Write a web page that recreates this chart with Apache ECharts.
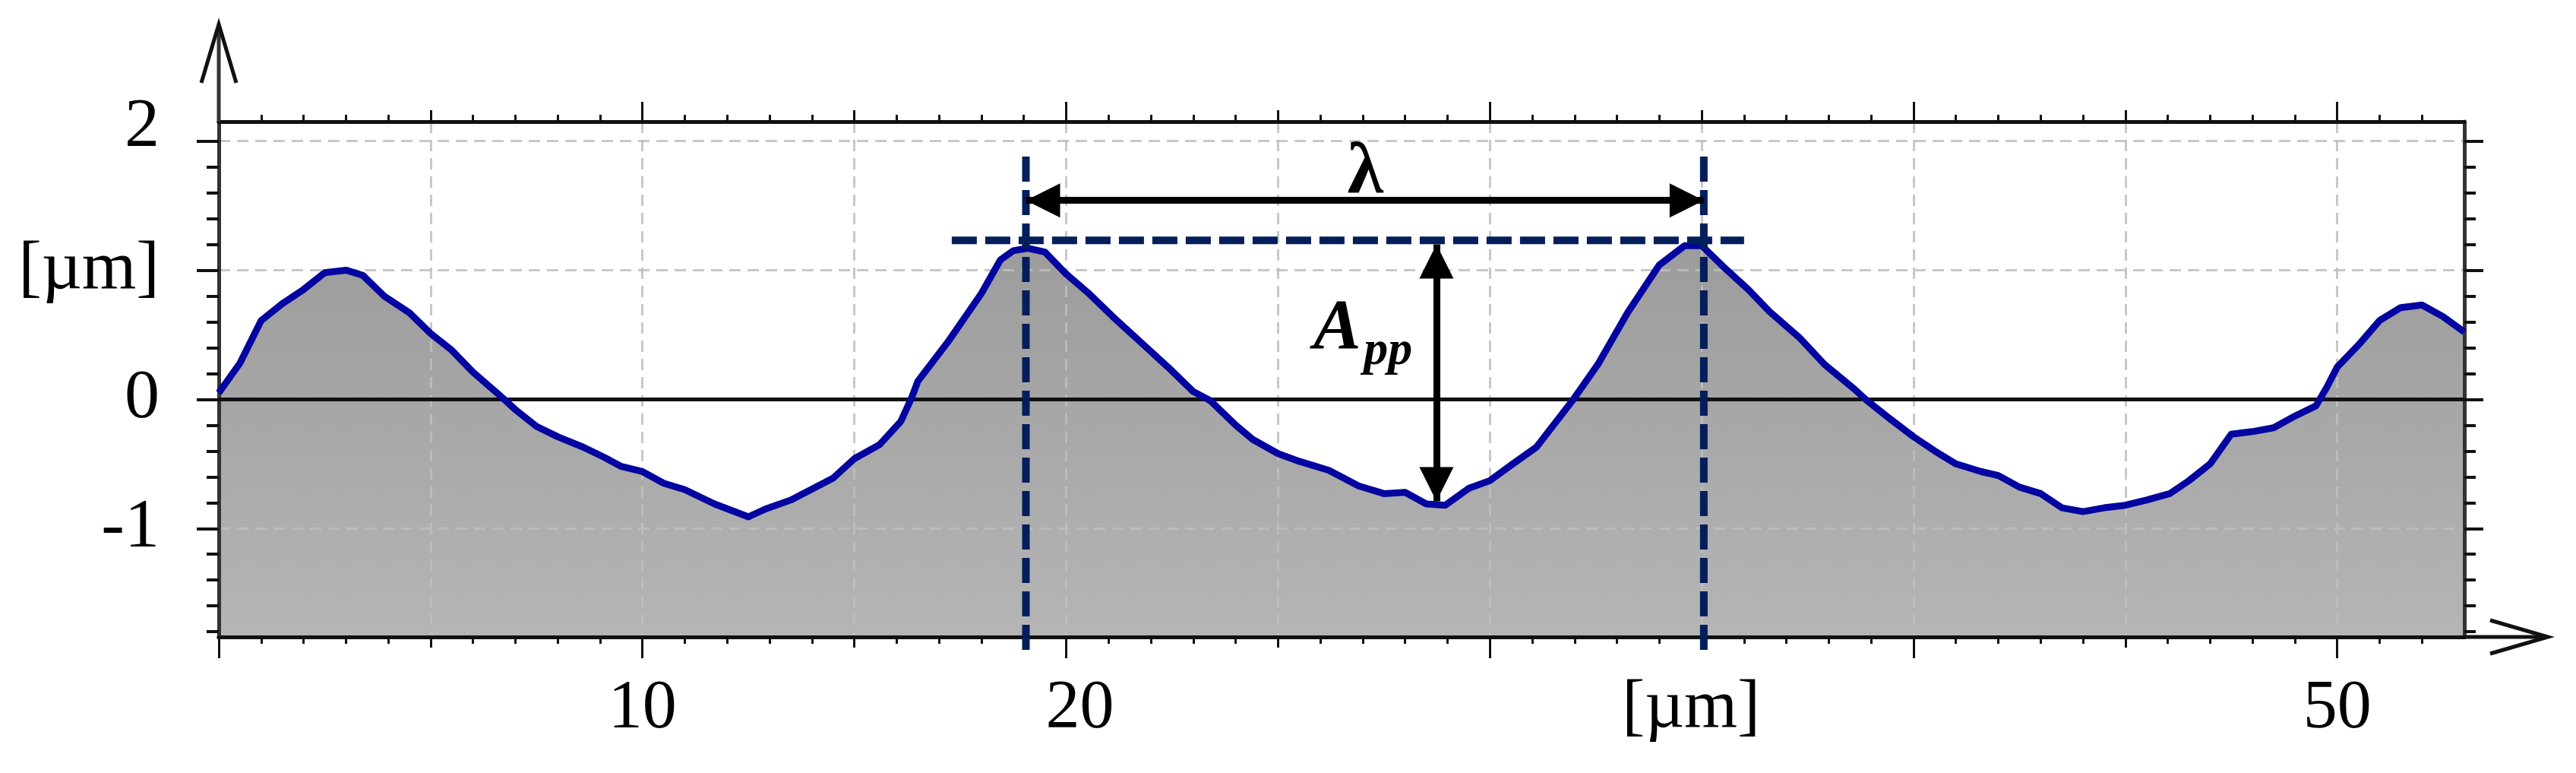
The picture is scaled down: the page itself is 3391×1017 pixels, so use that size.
<!DOCTYPE html>
<html><head><meta charset="utf-8">
<script src="https://cdn.jsdelivr.net/npm/echarts@6/dist/echarts.min.js"></script>
<style>html,body{margin:0;padding:0;background:#fff}#c{width:3391px;height:1017px}</style>
</head><body><div id="c"></div>
<script>
// ---------------- data ----------------
const profileX = [0,0.5,1,1.5,2,2.5,3,3.4,3.9,4.5,5,5.5,6,6.6,7,7.5,8,8.6,9.1,9.5,10,10.5,11,11.7,12.5,12.9,13.5,14.5,15,15.6,16.1,16.35,16.5,17.2,18,18.45,18.75,19.1,19.5,20,20.5,21.1,21.8,22.4,23,23.4,24,24.4,25,25.5,26.2,26.9,27.5,28,28.5,28.95,29.5,30,30.5,31.1,31.95,32.55,33.25,34,34.6,35,35.5,36.1,36.6,37.3,37.9,38.6,38.9,39.4,40,40.5,41,41.6,42,42.5,43,43.5,44,44.5,45,45.5,46.05,46.5,47,47.5,48,48.5,49,49.5,49.75,50,50.5,51,51.5,52,52.5,53];
const profileY = [0.05,0.28,0.61,0.74,0.85,0.98,1.00,0.96,0.80,0.67,0.51,0.38,0.21,0.04,-0.08,-0.21,-0.29,-0.37,-0.45,-0.52,-0.56,-0.65,-0.70,-0.81,-0.91,-0.85,-0.78,-0.61,-0.46,-0.35,-0.17,0.01,0.14,0.44,0.82,1.08,1.15,1.17,1.14,0.97,0.83,0.64,0.43,0.25,0.06,-0.01,-0.20,-0.31,-0.42,-0.48,-0.55,-0.67,-0.73,-0.72,-0.81,-0.82,-0.69,-0.63,-0.51,-0.37,-0.01,0.27,0.67,1.04,1.19,1.19,1.03,0.85,0.68,0.48,0.27,0.08,-0.01,-0.14,-0.29,-0.40,-0.50,-0.56,-0.59,-0.68,-0.73,-0.84,-0.87,-0.84,-0.82,-0.78,-0.73,-0.63,-0.50,-0.27,-0.25,-0.22,-0.13,-0.05,0.09,0.25,0.42,0.61,0.71,0.73,0.64,0.52];

const xMinorGridValues = [0,5,10,15,20,25,30,35,40,45,50];
const xMajorTickValues = [0,10,20,30,40,50];
const xLabelValues = [10,20,35,50];
const xLabelTexts = ['10','20','[µm]','50'];
const yTickValues = [-1,0,1,2];
const yLabelValues = [2,1,0,-1];
const yLabelTexts = ['2','[µm]','0','-1'];

const lambdaLineX = [19.05, 35.05];
const lambdaLineTop = [1.88, 1.88];
const lambdaLineBottom = [-1.95, -1.98];
const peakLevelX = [17.3, 36.0];
const peakLevelY = [1.23, 1.23];
const lambdaArrowX = [19.05, 35.05];
const lambdaArrowY = [1.54, 1.54];
const appArrowX = [28.74, 28.74];
const appArrowY = [1.20, -0.79];
const annotTexts = ['λ', 'A', 'pp'];
const annotX = [27.06, 26.4, 27.6];
const annotY = [1.75, 0.54, 0.37];

// ---------------- layout / style ----------------
const X_MIN = 0, X_MAX = 53, Y_MIN = -1.84, Y_MAX = 2.15;
const G = {left: 288, top: 160, width: 2956, height: 678};
const FONT = 'Liberation Serif';
const NAVY = '#041e5c';
const GRID_LINE = {color: 'rgba(190,190,190,0.85)', width: 3, type: [15, 9]};

const profileData = profileX.map((x, i) => [x, profileY[i]]);

function xAxisDef(pos, ticks, len, withMinor, withGrid, withLabels) {
  return {
    type: 'value', min: X_MIN, max: X_MAX, interval: withMinor ? 5 : 10, position: pos, z: 2,
    axisLine: {show: true, onZero: false, lineStyle: {color: '#111', width: 5}},
    axisTick: {show: true, customValues: ticks, length: len, inside: false, lineStyle: {color: '#111', width: 3}},
    minorTick: {show: withMinor, splitNumber: 5, length: 9, lineStyle: {color: '#111', width: 3}},
    splitLine: {show: withGrid, lineStyle: GRID_LINE},
    axisLabel: withLabels ? {
      show: true, customValues: xLabelValues, margin: 50,
      fontFamily: FONT, fontSize: 90, color: '#000',
      formatter: v => {
        const i = xLabelValues.indexOf(v);
        if (i < 0) return '';
        const t = xLabelTexts[i];
        if (v === 20) return '{r|' + t + '}';
        if (v === 35) return '{l|' + t + '}';
        return '{n|' + t + '}';
      },
      rich: {
        n: {fontFamily: FONT, fontSize: 90, color: '#000'},
        r: {fontFamily: FONT, fontSize: 90, color: '#000', padding: [0, 0, 0, 36]},
        l: {fontFamily: FONT, fontSize: 90, color: '#000', padding: [0, 28, 0, 0]}
      }
    } : {show: false}
  };
}

function yAxisDef(pos, len, minorLen, withGrid, withLabels) {
  return {
    type: 'value', min: Y_MIN, max: Y_MAX, position: pos, z: 2,
    axisLine: {show: true, onZero: false, lineStyle: {color: '#333', width: 5}},
    axisTick: {show: true, customValues: yTickValues, length: len, inside: false, lineStyle: {color: '#111', width: 4}},
    minorTick: {show: true, splitNumber: 5, length: minorLen, lineStyle: {color: '#111', width: 4}},
    splitLine: {show: withGrid, lineStyle: GRID_LINE},
    axisLabel: withLabels ? {
      show: true, customValues: yLabelValues, margin: 78,
      fontFamily: FONT, fontSize: 92, color: '#000',
      formatter: v => {
        const i = yLabelValues.indexOf(v);
        if (i < 0) return '';
        if (v === 2) return '{u|' + yLabelTexts[i] + '}';
        return '{n|' + yLabelTexts[i] + '}';
      },
      rich: {
        n: {fontFamily: FONT, fontSize: 92, color: '#000'},
        u: {fontFamily: FONT, fontSize: 92, color: '#000', padding: [0, 0, 36, 0]}
      }
    } : {show: false}
  };
}

const arrowLine = {
  silent: true, z: 5, animation: false,
  symbol: ['triangle', 'triangle'], symbolSize: 45,
  symbolOffset: [[0, '50%'], [0, '50%']],
  label: {show: false}, emphasis: {disabled: true},
  lineStyle: {color: '#000', width: 9, type: 'solid', opacity: 1}
};

const chart = echarts.init(document.getElementById('c'), null, {renderer: 'canvas'});
const L = G.left, T = G.top, R = G.left + G.width, B = G.top + G.height;

chart.setOption({
  backgroundColor: '#ffffff',
  animation: false,
  grid: {left: G.left, top: G.top, width: G.width, height: G.height, containLabel: false},
  xAxis: [
    xAxisDef('bottom', xMinorGridValues, 14, true, true, true),
    xAxisDef('bottom', xMajorTickValues, 28, false, false, false),
    xAxisDef('top', xMinorGridValues, 15, true, false, false),
    xAxisDef('top', xMajorTickValues, 26, false, false, false)
  ],
  yAxis: [
    yAxisDef('left', 29, 16, true, true),
    yAxisDef('right', 25, 15, false, false)
  ],
  series: [
    {
      type: 'line', name: 'fill', data: profileData, xAxisIndex: 0, yAxisIndex: 0,
      symbol: 'none', z: 1, silent: true,
      lineStyle: {opacity: 0},
      areaStyle: {origin: 'start', opacity: 1, color: {type: 'linear', x: 0, y: 0, x2: 0, y2: 1,
        colorStops: [{offset: 0, color: '#9c9c9c'}, {offset: 1, color: '#b5b5b5'}]}},
      markLine: {silent: true, z: 2.5, symbol: 'none', label: {show: false}, animation: false,
        lineStyle: {color: '#111', width: 5, type: 'solid'}, data: [{yAxis: 0}]}
    },
    {
      type: 'line', name: 'profile', data: profileData, xAxisIndex: 0, yAxisIndex: 0,
      symbol: 'none', z: 3, silent: true,
      lineStyle: {color: '#0404a0', width: 9, join: 'round'}
    },
    {
      type: 'line', name: 'peakLevel', data: peakLevelX.map((x, i) => [x, peakLevelY[i]]),
      symbol: 'none', z: 4, silent: true, clip: false,
      lineStyle: {color: NAVY, width: 10, type: [33, 11]},
      markLine: Object.assign({}, arrowLine, {data: [[{coord: [lambdaArrowX[0], lambdaArrowY[0]]}, {coord: [lambdaArrowX[1], lambdaArrowY[1]]}]]})
    },
    {
      type: 'line', name: 'lambdaLeft', data: [[lambdaLineX[0], lambdaLineTop[0]], [lambdaLineX[0], lambdaLineBottom[0]]],
      symbol: 'none', z: 4, silent: true, clip: false,
      lineStyle: {color: NAVY, width: 10, type: [33, 11]},
      markLine: Object.assign({}, arrowLine, {data: [[{coord: [appArrowX[0], appArrowY[0]]}, {coord: [appArrowX[1], appArrowY[1]]}]]})
    },
    {
      type: 'line', name: 'lambdaRight', data: [[lambdaLineX[1], lambdaLineTop[1]], [lambdaLineX[1], lambdaLineBottom[1]]],
      symbol: 'none', z: 4, silent: true, clip: false,
      lineStyle: {color: NAVY, width: 10, type: [33, 11]}
    },
    {
      type: 'scatter', name: 'labels', z: 6, silent: true, symbolSize: 1,
      itemStyle: {color: 'rgba(0,0,0,0)'}, emphasis: {disabled: true},
      data: annotTexts.map((t, i) => ({
        value: [annotX[i], annotY[i]],
        label: {
          show: true, position: 'inside', formatter: t, color: '#000', fontFamily: FONT,
          textBorderWidth: 0, textBorderColor: 'transparent', textShadowBlur: 0, opacity: 1,
          fontSize: i === 0 ? 96 : (i === 1 ? 94 : 64),
          fontStyle: i === 0 ? 'normal' : 'italic',
          fontWeight: 'bold'
        }
      }))
    }
  ],
  graphic: [
    {type: 'polyline', z: 10, silent: true, shape: {points: [[L, T], [L, 34]]}, style: {stroke: '#333', lineWidth: 5, fill: null}},
    {type: 'polyline', z: 10, silent: true, shape: {points: [[L - 23, 109], [L, 32], [L + 23, 109]]}, style: {stroke: '#111', lineWidth: 5, fill: null, lineJoin: 'miter', miterLimit: 20}},
    {type: 'polyline', z: 10, silent: true, shape: {points: [[R, B], [3352, B]]}, style: {stroke: '#111', lineWidth: 5, fill: null}},
    {type: 'polyline', z: 10, silent: true, shape: {points: [[3278, B - 22], [3354, B], [3278, B + 22]]}, style: {stroke: '#111', lineWidth: 5, fill: null, lineJoin: 'miter', miterLimit: 20}}
  ]
});
</script>
</body></html>
